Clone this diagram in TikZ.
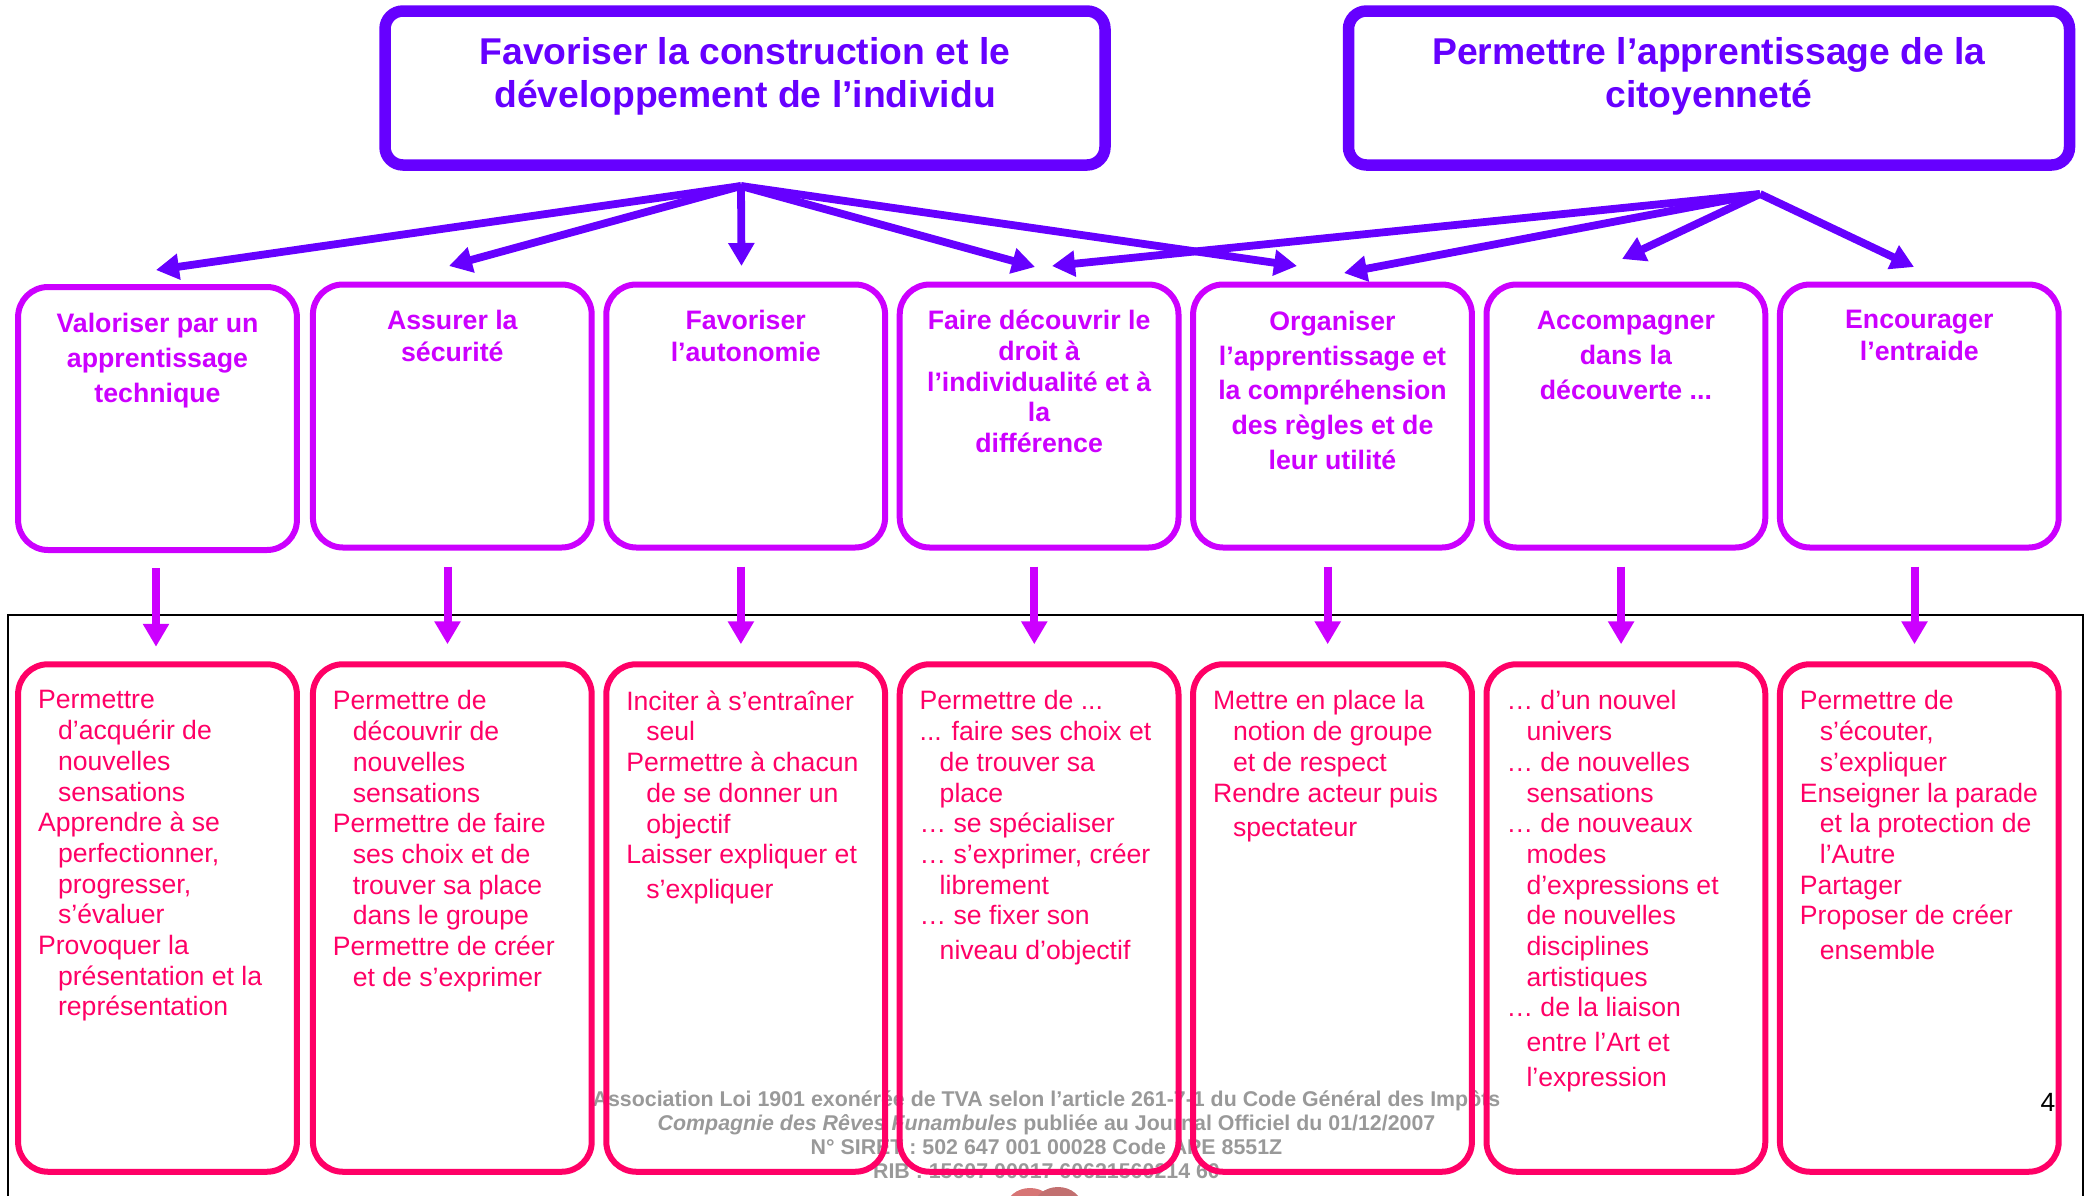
\documentclass[tikz,border=0pt]{standalone}
\usepackage{fontspec}
\setmainfont{Liberation Sans}
\usetikzlibrary{positioning,arrows.meta}
\definecolor{violetline}{HTML}{6600FF}
\definecolor{mauveline}{HTML}{CC00FF}
\definecolor{roseline}{HTML}{FF0066}
\definecolor{footgray}{HTML}{999999}
\tikzset{
    topbox/.style={draw=violetline, line width=5.75pt, rounded corners=9pt, outer sep=0pt, minimum height=77pt},
    toptext/.style={text=violetline, inner sep=0pt, align=center, font=\bfseries\fontsize{18.65}{21.75}\selectfont},
    midbox/.style={draw=mauveline, line width=3pt, rounded corners=15pt, outer sep=0pt, minimum width=139.4pt, minimum height=131.5pt},
    midtext/.style={text=mauveline, inner sep=0pt, align=center, font=\bfseries\fontsize{13.35}{#1}\selectfont},
    midtext/.default={16},
    pinkbox/.style={draw=roseline, line width=3pt, rounded corners=15pt, outer sep=0pt, minimum width=139.4pt, minimum height=253.75pt},
    pinktext/.style={text=roseline, inner sep=0pt, align=left, font=\fontsize{13.3}{15.35}\selectfont},
    violetarrow/.style={draw=violetline, line width=3.9pt, -{Triangle[length=11.5pt,width=12.5pt]}},
    mauvearrow/.style={draw=mauveline, line width=4pt, -{Triangle[length=11.5pt,width=12.5pt]}},
    foottext/.style={text=footgray, inner sep=0pt, align=center, font=\bfseries\fontsize{10.68}{12}\selectfont}
}
\newcommand{\ind}{\hspace*{10pt}}
\begin{document}
\begin{tikzpicture}[x=0.5pt, y=-0.5pt, node distance=7.3pt]
    \useasboundingbox (0,0) rectangle (2089,1195);
    % black frame, open at the bottom
    \draw[line width=1.15pt] (8,1199) |- (2083,615) -- (2083,1199);
    % bit of the logo and footer, under the pink boxes
    \fill[red!55!gray!70] (1030,1208) ellipse (24 and 20);
    \fill[red!40!gray!80] (1058,1207) ellipse (24 and 20);
    \node[foottext] (foot) at (1046.5,1135) {Association Loi 1901 exonérée de TVA selon l’article 261-7-1 du Code Général des Impôts\\
        {\itshape Compagnie des Rêves Funambules} publiée au Journal Officiel du 01/12/2007\\
        N° SIRET : 502 647 001 00028 Code APE 8551Z\\
        RIB : 15607 00017 60621560214 60};
    \node[inner sep=0pt, font=\fontsize{13.2}{15}\selectfont] (pagenum) at (2048,1102) {4};
    % top row
    \node[topbox, minimum width=360pt] (T1) at (745,88) {};
    \node[topbox, minimum width=360.5pt] (T2) at (1709,88) {};
    \node[toptext, below=13pt of T1.north] (tt1) {Favoriser la construction et le\\développement de l’individu};
    \node[toptext, below=13pt of T2.north] (tt2) {Permettre l’apprentissage de la\\citoyenneté};
    % middle row
    \node[midbox] (M1) at (157.5,418.5) {};
    \node[midbox, right=8pt of M1, yshift=1.25pt] (M2) {};
    \node[midbox, right=of M2] (M3) {};
    \node[midbox, right=of M3] (M4) {};
    \node[midbox, right=of M4] (M5) {};
    \node[midbox, right=of M5] (M6) {};
    \node[midbox, right=of M6] (M7) {};
    \node[midtext=17.5, below=13pt of M1.north] (mt1) {Valoriser par un\\apprentissage\\technique};
    \node[midtext=16, below=12.5pt of M2.north] (mt2) {Assurer la\\sécurité};
    \node[midtext=16, below=12.5pt of M3.north] (mt3) {Favoriser\\l’autonomie};
    \node[midtext=15.4, below=12.5pt of M4.north] (mt4) {Faire découvrir le\\droit à\\l’individualité et à\\la\\différence};
    \node[midtext=17.4, below=13pt of M5.north] (mt5) {Organiser\\l’apprentissage et\\la compréhension\\des règles et de\\leur utilité};
    \node[midtext=17.5, below=13pt of M6.north] (mt6) {Accompagner\\dans la\\découverte ...};
    \node[midtext=16, below=12.5pt of M7.north] (mt7) {Encourager\\l’entraide};
    % bottom row
    \node[pinkbox] (P1) at (157.5,918) {};
    \node[pinkbox, right=8pt of P1] (P2) {};
    \node[pinkbox, right=of P2] (P3) {};
    \node[pinkbox, right=of P3] (P4) {};
    \node[pinkbox, right=of P4] (P5) {};
    \node[pinkbox, right=of P5] (P6) {};
    \node[pinkbox, right=of P6] (P7) {};
    \node[pinktext, below right=13pt and 9.8pt of P1.north west] (pt1) {Permettre\\\ind d’acquérir de\\\ind nouvelles\\\ind sensations\\Apprendre à se\\\ind perfectionner,\\\ind progresser,\\\ind s’évaluer\\Provoquer la\\\ind présentation et la\\\ind représentation};
    \node[pinktext, below right=13pt and 9.8pt of P2.north west] (pt2) {Permettre de\\\ind découvrir de\\\ind nouvelles\\\ind sensations\\Permettre de faire\\\ind ses choix et de\\\ind trouver sa place\\\ind dans le groupe\\Permettre de créer\\\ind et de s’exprimer};
    \node[pinktext, below right=13pt and 9.8pt of P3.north west] (pt3) {Inciter à s’entraîner\\\ind seul\\Permettre à chacun\\\ind de se donner un\\\ind objectif\\Laisser expliquer et\\[2pt]\ind s’expliquer};
    \node[pinktext, below right=13pt and 9.8pt of P4.north west] (pt4) {Permettre de ...\\... faire ses choix et\\\ind de trouver sa\\\ind place\\… se spécialiser\\… s’exprimer, créer\\\ind librement\\… se fixer son\\[2pt]\ind niveau d’objectif};
    \node[pinktext, below right=13pt and 9.8pt of P5.north west] (pt5) {Mettre en place la\\\ind notion de groupe\\\ind et de respect\\Rendre acteur puis\\[2pt]\ind spectateur};
    \node[pinktext, below right=13pt and 9.8pt of P6.north west] (pt6) {… d’un nouvel\\\ind univers\\… de nouvelles\\\ind sensations\\… de nouveaux\\\ind modes\\\ind d’expressions et\\\ind de nouvelles\\\ind disciplines\\\ind artistiques\\… de la liaison\\[2pt]\ind entre l’Art et\\[2pt]\ind l’expression};
    \node[pinktext, below right=13pt and 9.8pt of P7.north west] (pt7) {Permettre de\\\ind s’écouter,\\\ind s’expliquer\\Enseigner la parade\\\ind et la protection de\\\ind l’Autre\\Partager\\Proposer de créer\\[2pt]\ind ensemble};
    % thick arrows from the two top boxes
    \coordinate (src1) at (741,186);
    \coordinate (src2) at (1760,194);
    \coordinate (a1) at (156,270);
    \coordinate (a2) at (449,266);
    \coordinate (a3) at (741.5,266);
    \coordinate (a4) at (1035,267);
    \coordinate (a5) at (1297,266);
    \coordinate (b4) at (1052,266);
    \coordinate (b5) at (1344,273);
    \coordinate (b6) at (1622,259);
    \coordinate (b7) at (1914,267);
    \foreach \i in {1,...,5}{\draw[violetarrow] (src1) -- (a\i);}
    \foreach \i in {4,...,7}{\draw[violetarrow] (src2) -- (b\i);}
    % arrows from middle row to bottom row
    \draw[mauvearrow] ([shift={(-0.75pt,-9pt)}]M1.south) -- ([shift={(-0.75pt,8.75pt)}]P1.north);
    \foreach \i in {2,...,7}{\draw[mauvearrow] ([shift={(-2.4pt,-9.5pt)}]M\i.south) -- ([shift={(-2.4pt,10pt)}]P\i.north);}
\end{tikzpicture}
\end{document}
